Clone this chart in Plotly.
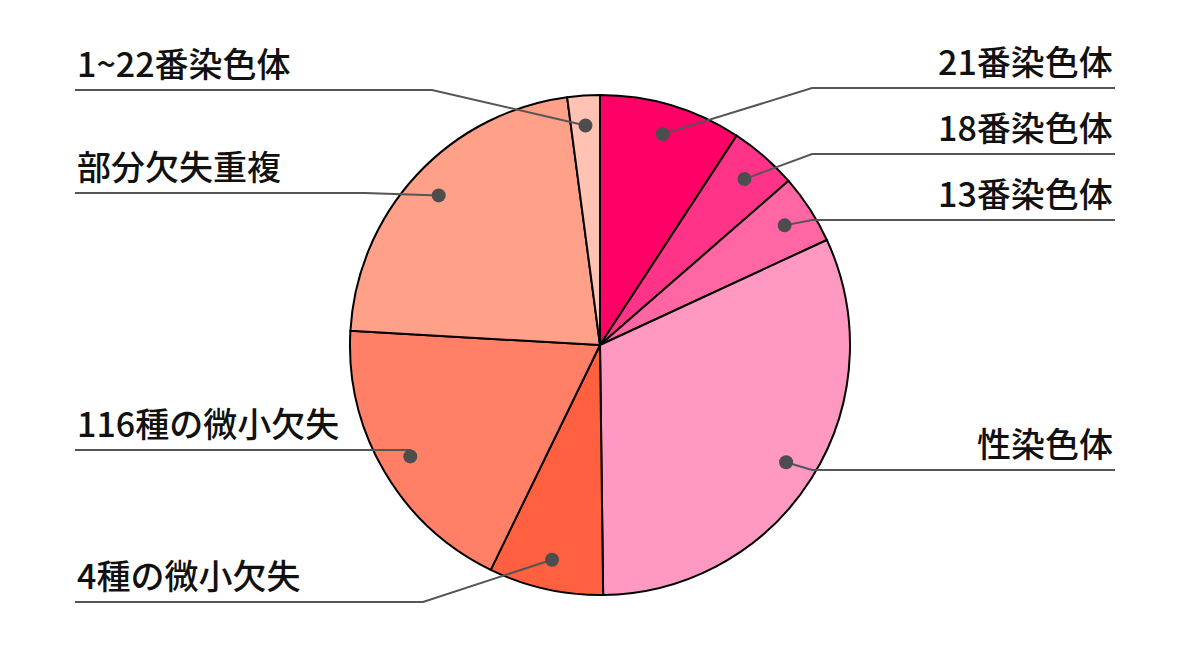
import math
import plotly.graph_objects as go

# ---- data ----
labels = ["21番染色体", "18番染色体", "13番染色体", "性染色体",
          "4種の微小欠失", "116種の微小欠失", "部分欠失重複", "1~22番染色体"]
values = [9.2, 4.4, 4.5, 31.7, 7.4, 18.7, 22.0, 2.1]
colors = ["#FF0066", "#FF3388", "#FF66A3", "#FF99C2",
          "#FF603F", "#FF8066", "#FFA088", "#FFC2B3"]

# ---- layout / label placement (pixels) ----
W, H = 1200, 657
CX, CY, R = 600, 345, 250
DOT_R_FRAC = 0.88
label_side = ["right", "right", "right", "right", "left", "left", "left", "left"]
label_line_y = [88, 154, 220, 470, 602, 450, 193, 90]
label_elbow_x = [812, 812, 812, 812, 423, 421, 365, 432]
RIGHT_END, LEFT_END = 1115, 75
FONT = "Noto Sans CJK JP, Noto Sans, sans-serif"


def px(x):
    return x / W


def py(y):
    return 1 - y / H


fig = go.Figure()
fig.add_trace(go.Pie(
    labels=labels, values=values, sort=False, direction="clockwise", rotation=0,
    marker=dict(colors=colors, line=dict(color="#000000", width=2)),
    textinfo="none", hoverinfo="skip", showlegend=False,
    domain=dict(x=[px(CX - R), px(CX + R)], y=[py(CY + R), py(CY - R)]),
))

shapes = []
annotations = []
total = sum(values)
cum = 0.0
for lab, v, side, ly, ex in zip(labels, values, label_side, label_line_y, label_elbow_x):
    mid = (cum + v / 2) / total * 2 * math.pi
    cum += v
    dx = CX + R * DOT_R_FRAC * math.sin(mid)
    dy = CY - R * DOT_R_FRAC * math.cos(mid)
    end = RIGHT_END if side == "right" else LEFT_END
    pts = [(dx, dy)]
    if (side == "right" and ex > dx) or (side == "left" and ex < dx):
        pts.append((ex, ly))
    else:
        pts.append((dx, ly))
    pts.append((end, ly))
    path = "M " + " L ".join(f"{px(a):.5f},{py(b):.5f}" for a, b in pts)
    shapes.append(dict(type="path", path=path, xref="paper", yref="paper",
                       line=dict(color="#555555", width=2), layer="above"))
    rr = 7
    shapes.append(dict(type="circle", xref="paper", yref="paper",
                       x0=px(dx - rr), x1=px(dx + rr), y0=py(dy + rr), y1=py(dy - rr),
                       fillcolor="#4D4D4D", line=dict(width=0), layer="above"))
    annotations.append(dict(
        text=lab, xref="paper", yref="paper", x=px(end), y=py(ly - 1),
        xanchor="right" if side == "right" else "left", yanchor="bottom",
        showarrow=False,
        font=dict(family=FONT, size=34, color="#111111", weight=500),
    ))

fig.update_layout(
    width=W, height=H, margin=dict(l=0, r=0, t=0, b=0),
    paper_bgcolor="white", plot_bgcolor="white",
    shapes=shapes, annotations=annotations, showlegend=False,
)
fig.write_html("out.html", config={"displayModeBar": False},
               post_script="document.body.style.margin='0';")
